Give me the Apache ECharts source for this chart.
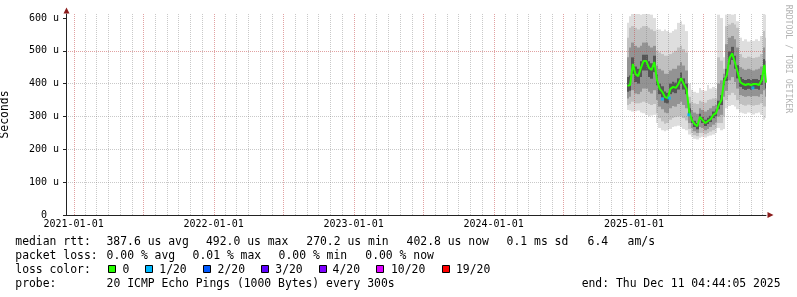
<!DOCTYPE html>
<html><head><meta charset="utf-8">
<script src="https://cdn.jsdelivr.net/npm/echarts@6/dist/echarts.min.js"></script>
<style>html,body{margin:0;padding:0;background:#fff}#c{width:797px;height:297px}</style>
</head><body><div id="c"></div>
<script>
// ---- data ----
const dates = ['2024-12-15','2024-12-22','2024-12-29','2025-01-05','2025-01-12','2025-01-19','2025-01-26','2025-02-02','2025-02-09','2025-02-16','2025-02-23',
 '2025-03-02','2025-03-09','2025-03-16','2025-03-23','2025-03-30','2025-04-06','2025-04-13','2025-04-20','2025-04-27','2025-05-04','2025-05-11','2025-05-18',
 '2025-05-25','2025-06-01','2025-06-08','2025-06-15','2025-06-22','2025-06-29','2025-07-06','2025-07-13','2025-07-20','2025-07-27','2025-08-03',
 '2025-08-10','2025-08-17','2025-08-24',
 '2025-08-31','2025-09-07','2025-09-14','2025-09-21','2025-09-28',
 '2025-10-05','2025-10-12','2025-10-19','2025-10-26','2025-11-02','2025-11-09','2025-11-16','2025-11-23','2025-11-30',
 '2025-12-07','2025-12-11'];
const median = [393,396,460,429,423,448,469,469,448,442,466, 411,384,375,359,356,384,390,387,399,417,399,384, 314,289,277,270,299,289,280,286,292,305,311, 335,350,408, 426,478,492,465,436, 405,399,396,399,396,399,399,396,411, 457,403];
const smokeMax = [585,605,612,612,612,610,612,612,612,610,600, 565,565,560,565,560,555,560,565,585,590,580,560, 400,381,375,372,387,380,378,396,385,390,385, 610,600,480, 610,612,610,612,590, 540,530,535,528,532,530,535,530,545, 612,610];
const smokeHi90 = [540,570,575,570,565,570,575,575,570,565,560, 500,495,490,485,485,490,495,500,510,515,505,495, 360,345,340,338,348,345,342,350,352,355,355, 480,470,445, 575,580,585,580,570, 490,480,478,482,480,478,480,482,490, 560,540];
const smokeHi75 = [480,510,525,515,510,515,525,525,515,510,515, 455,445,440,430,430,440,445,445,455,465,455,440, 340,320,312,308,325,320,315,320,325,332,335, 400,410,430, 520,540,545,535,510, 450,445,442,445,443,440,443,445,452, 510,470];
const smokeHi60 = [420,425,480,452,445,468,488,488,468,462,485, 428,400,392,376,372,400,406,403,416,434,416,400, 325,298,287,280,308,298,290,296,302,315,321, 348,365,418, 445,498,512,485,456, 420,414,411,414,411,414,414,411,426, 475,420];
const smokeLo40 = [375,378,430,405,400,420,440,440,420,415,435, 395,368,358,342,340,368,374,371,382,400,382,368, 303,280,268,261,290,280,271,277,283,295,301, 322,335,395, 408,458,472,445,416, 390,384,381,384,381,384,384,381,396, 430,385];
const smokeLo25 = [355,360,380,370,368,375,385,385,375,370,380, 350,330,322,312,310,325,332,330,338,345,335,325, 280,265,255,250,268,265,258,262,268,275,282, 300,305,360, 378,410,420,405,385, 365,362,360,362,360,362,362,360,368, 380,360];
const smokeLo10 = [335,338,345,340,340,342,345,342,338,335,338, 310,295,285,278,280,290,295,298,300,300,295,288, 262,250,243,240,250,250,246,250,254,258,265, 280,280,300, 350,365,372,365,350, 338,335,333,336,334,333,335,336,340, 330,330];
const smokeMin = [320,318,315,316,318,312,310,305,300,303,305, 280,265,258,255,258,262,268,270,272,268,262,258, 245,238,232,230,235,238,236,240,242,245,250, 265,258,262, 325,332,335,330,322, 312,310,308,312,310,306,310,312,305, 290,295];
const lossDates = ['2025-03-16','2025-04-03','2025-05-24','2025-11-07'];
const lossValues = [353,356,305,387];
const xTickLabels = ['2021-01-01','2022-01-01','2023-01-01','2024-01-01','2025-01-01'];
const yTickValues = [0,100,200,300,400,500,600];
const lossLevels = ['0','1/20','2/20','3/20','4/20','10/20','19/20'];
const lossColors = ['#26ff00','#00b8ff','#0059ff','#5e00ff','#7e00ff','#dd00ff','#ff0000'];
const endText = 'end: Thu Dec 11 04:44:05 2025';

// ---- chart ----
const MONO = "'DejaVu Sans Mono', monospace";
const ts = s => Date.parse(s + 'T00:00:00Z');
const END = Date.parse('2025-12-11T04:44:05Z');
const START = END - 1825 * 86400000;
const T = dates.map(ts);
const pad = n => (n < 10 ? '0' : '') + n;
const fmtDate = v => { const d = new Date(v); return d.getUTCFullYear() + '-' + pad(d.getUTCMonth() + 1) + '-' + pad(d.getUTCDate()); };

const RED = 'rgba(195,70,70,0.5)';
const GRAY = 'rgba(120,120,120,0.4)';

// vertical grid positions (month lines, half-year major)
const vGrid = [];
for (let y = 2021; y <= 2025; y++) for (let m = 0; m < 12; m++) {
  const t = Date.UTC(y, m, 1);
  if (t > START && t < END) vGrid.push([t, m % 6 === 0 ? 1 : 0]);
}

const bands = [
  { lo: smokeMin, hi: smokeMax, color: '#dedede' },
  { lo: smokeLo10, hi: smokeHi90, color: '#c0c0c0' },
  { lo: smokeLo25, hi: smokeHi75, color: '#939393' },
  { lo: smokeLo40, hi: smokeHi60, color: '#555555' }
];
const n = T.length;
const series = [];
bands.forEach((b) => {
  series.push({
    type: 'custom', silent: true, z: 1, clip: true,
    encode: { x: [0, 3, 4], y: [1, 2] },
    data: T.map((t, i) => [t, b.lo[i], b.hi[i], i === 0 ? t : (T[i - 1] + t) / 2, i === n - 1 ? t : (t + T[i + 1]) / 2]),
    renderItem: (params, api) => {
      const a = api.coord([api.value(3), api.value(2)]);
      const c = api.coord([api.value(4), api.value(1)]);
      const x0 = Math.round(a[0]), x1 = Math.round(c[0]);
      return { type: 'rect', shape: { x: x0, y: a[1], width: Math.max(1, x1 - x0), height: c[1] - a[1] }, style: { fill: b.color } };
    }
  });
});
// vertical grid lines drawn over the smoke, as rrdtool does
series.push({
  type: 'custom', silent: true, z: 4, clip: false,
  encode: { x: 0 },
  data: vGrid,
  renderItem: (params, api) => {
    const x = Math.round(api.coord([api.value(0), 0])[0]) + 0.5;
    const cs = params.coordSys;
    return { type: 'line', shape: { x1: x, y1: cs.y, x2: x, y2: cs.y + cs.height },
      style: { stroke: api.value(1) ? RED : GRAY, lineWidth: 1, lineDash: [1, 1] } };
  }
});
series.push({ type: 'line', symbol: 'none', silent: true, z: 10,
  lineStyle: { color: lossColors[0], width: 2 }, data: T.map((t, i) => [t, median[i]]) });
series.push({ type: 'scatter', symbol: 'rect', symbolSize: 3, silent: true, z: 11,
  itemStyle: { color: lossColors[1] }, data: lossDates.map((d, i) => [ts(d), lossValues[i]]) });

// legend / text graphics
const G = [];
const txt = (x, y, text, o = {}) => G.push({ type: 'text', x, y, silent: true, z: 100,
  style: Object.assign({ text, fill: '#000', font: '11.4px ' + MONO, textAlign: 'left', textVerticalAlign: 'middle', align: 'left', verticalAlign: 'middle' }, o) });
const L1 = 242, L2 = 255.7, L3 = 269.6, L4 = 283.6;
txt(15.3, L1, 'median rtt:'); txt(106.5, L1, '387.6 us avg'); txt(206, L1, '492.0 us max'); txt(306.3, L1, '270.2 us min');
txt(406.6, L1, '402.8 us now'); txt(506.6, L1, '0.1 ms sd'); txt(587.6, L1, '6.4'); txt(627.6, L1, 'am/s');
txt(15.3, L2, 'packet loss:'); txt(106.6, L2, '0.00 % avg'); txt(192.6, L2, '0.01 % max'); txt(278.6, L2, '0.00 % min'); txt(365.3, L2, '0.00 % now');
txt(15.3, L3, 'loss color:');
const sqX = [108.5, 145.5, 203.5, 261.5, 319.5, 376.5, 442.5];
const lbX = [122.6, 159.3, 217.6, 275.3, 332.6, 391, 456];
lossLevels.forEach((lv, i) => {
  G.push({ type: 'rect', silent: true, z: 100, shape: { x: sqX[i], y: 265.5, width: 7, height: 7 },
    style: { fill: lossColors[i], stroke: '#000', lineWidth: 1 } });
  txt(lbX[i], L3, lv);
});
txt(15.3, L4, 'probe:'); txt(106.6, L4, '20 ICMP Echo Pings (1000 Bytes) every 300s');
txt(780.5, L4, endText, { textAlign: 'right', align: 'right' });
// watermark
G.push({ type: 'text', x: 788.5, y: 59, rotation: -Math.PI / 2, silent: true, z: 100,
  style: { text: 'RRDTOOL / TOBI OETIKER', fill: '#b4b4b4', font: '8.2px ' + MONO, textAlign: 'center', textVerticalAlign: 'middle', align: 'center', verticalAlign: 'middle' } });
// axis arrows
G.push({ type: 'polygon', silent: true, z: 100, shape: { points: [[63.5, 13.5], [69.5, 13.5], [66.5, 7.5]] }, style: { fill: '#8b1c1c' } });
G.push({ type: 'polygon', silent: true, z: 100, shape: { points: [[767.5, 212], [767.5, 218], [773.5, 215]] }, style: { fill: '#8b1c1c' } });

const chart = echarts.init(document.getElementById('c'), null, { renderer: 'canvas' });
chart.setOption({
  backgroundColor: '#ffffff',
  animation: false,
  grid: { left: 66, top: 14, width: 700, height: 201, containLabel: false, outerBoundsMode: 'none' },
  xAxis: {
    type: 'value', min: START, max: END, z: 3, scale: true,
    axisLine: { show: true, onZero: false, lineStyle: { color: '#222', width: 1 } },
    axisTick: { show: false },
    axisLabel: { customValues: xTickLabels.map(ts), formatter: v => fmtDate(v), fontFamily: MONO, fontSize: 10, color: '#000', margin: 4, hideOverlap: false },
    splitLine: { show: false }
  },
  yAxis: {
    type: 'value', min: 0, max: 612, interval: 20, z: 3,
    name: 'Seconds', nameLocation: 'middle', nameGap: 55,
    nameTextStyle: { fontFamily: MONO, fontSize: 11.4, color: '#000' },
    axisLine: { show: true, lineStyle: { color: '#222', width: 1 } },
    axisTick: { show: true, length: 3, customValues: yTickValues, lineStyle: { color: '#222' } },
    axisLabel: { customValues: yTickValues, formatter: v => (v % 100 === 0 ? (v === 0 ? '0  ' : v + ' u') : ''), fontFamily: MONO, fontSize: 10, color: '#000', margin: 7 },
    splitLine: { show: true, showMaxLine: false, lineStyle: { color: [RED, GRAY, GRAY, GRAY, GRAY], type: [1, 1], width: 1 } }
  },
  series,
  graphic: G
});
</script></body></html>
